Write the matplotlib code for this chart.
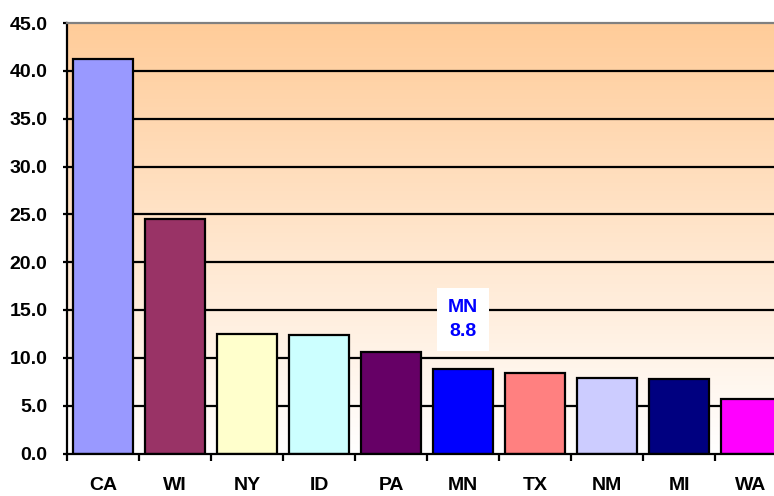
import numpy as np
import matplotlib.pyplot as plt

# Datos
estados = ['CA', 'WI', 'NY', 'ID', 'PA', 'MN', 'TX', 'NM', 'MI', 'WA']
valores = [41.2, 24.5, 12.5, 12.4, 10.6, 8.8, 8.45, 7.9, 7.8, 5.65]
colores = ['#9999FF', '#993366', '#FFFFCC', '#CCFFFF', '#660066',
           '#0000FF', '#FF8080', '#CCCCFF', '#000080', '#FF00FF']

plt.rcParams['font.family'] = ['Liberation Sans', 'DejaVu Sans']
plt.rcParams['font.weight'] = 'bold'

fig = plt.figure(figsize=(7.74, 4.96), dpi=100)
# el área de trazado se sale por la derecha, como en el original
ax = fig.add_axes([67 / 774, 42.5 / 496, 720 / 774, 430.5 / 496])

x = np.arange(len(estados))

# fondo degradado naranja -> blanco
grad = np.linspace(0, 1, 256).reshape(-1, 1)
top = np.array([1.0, 0.80, 0.60])
bot = np.array([1.0, 1.0, 1.0])
img = top * (1 - grad[..., None]) + bot * grad[..., None]
img = img.reshape(256, 1, 3)
ax.imshow(img, extent=[-0.5, len(estados) - 0.5, 0, 45], aspect='auto',
          origin='upper', zorder=0)

# líneas de la cuadrícula
for y in np.arange(5, 45, 5):
    ax.axhline(y, color='black', lw=1.6, zorder=1)

ax.bar(x, valores, width=0.83, color=colores, edgecolor='black',
       linewidth=1.6, zorder=2)

# etiqueta de MN
i = estados.index('MN')
ax.text(x[i], 14.0, f'{estados[i]}\n{valores[i]:.1f}', color='#0000FF',
        fontsize=14, fontweight='bold', ha='center', va='center',
        linespacing=1.55,
        bbox=dict(facecolor='white', edgecolor='none', pad=7.5), zorder=3)

ax.set_xlim(-0.5, len(estados) - 0.5)
ax.set_ylim(0, 45)
ax.set_yticks(np.arange(0, 46, 5))
ax.set_yticklabels([f'{v:.1f}' for v in np.arange(0, 46, 5)])
ax.set_xticks(x)
ax.set_xticklabels(estados)
ax.set_xticks(np.arange(-0.5, len(estados), 1), minor=True)
ax.tick_params(axis='x', which='major', length=0, pad=17, labelsize=14)
ax.tick_params(axis='x', which='minor', length=5, width=1.6, direction='out')
ax.tick_params(axis='y', length=3, width=1.6, direction='out', pad=11,
               labelsize=14)
for lab in ax.get_xticklabels() + ax.get_yticklabels():
    lab.set_fontweight('bold')

ax.spines['top'].set_color('#808080')
ax.spines['top'].set_linewidth(1.6)
ax.spines['left'].set_linewidth(1.6)
ax.spines['bottom'].set_linewidth(1.6)
ax.spines['right'].set_visible(False)

fig.savefig('out.png', dpi=100)
